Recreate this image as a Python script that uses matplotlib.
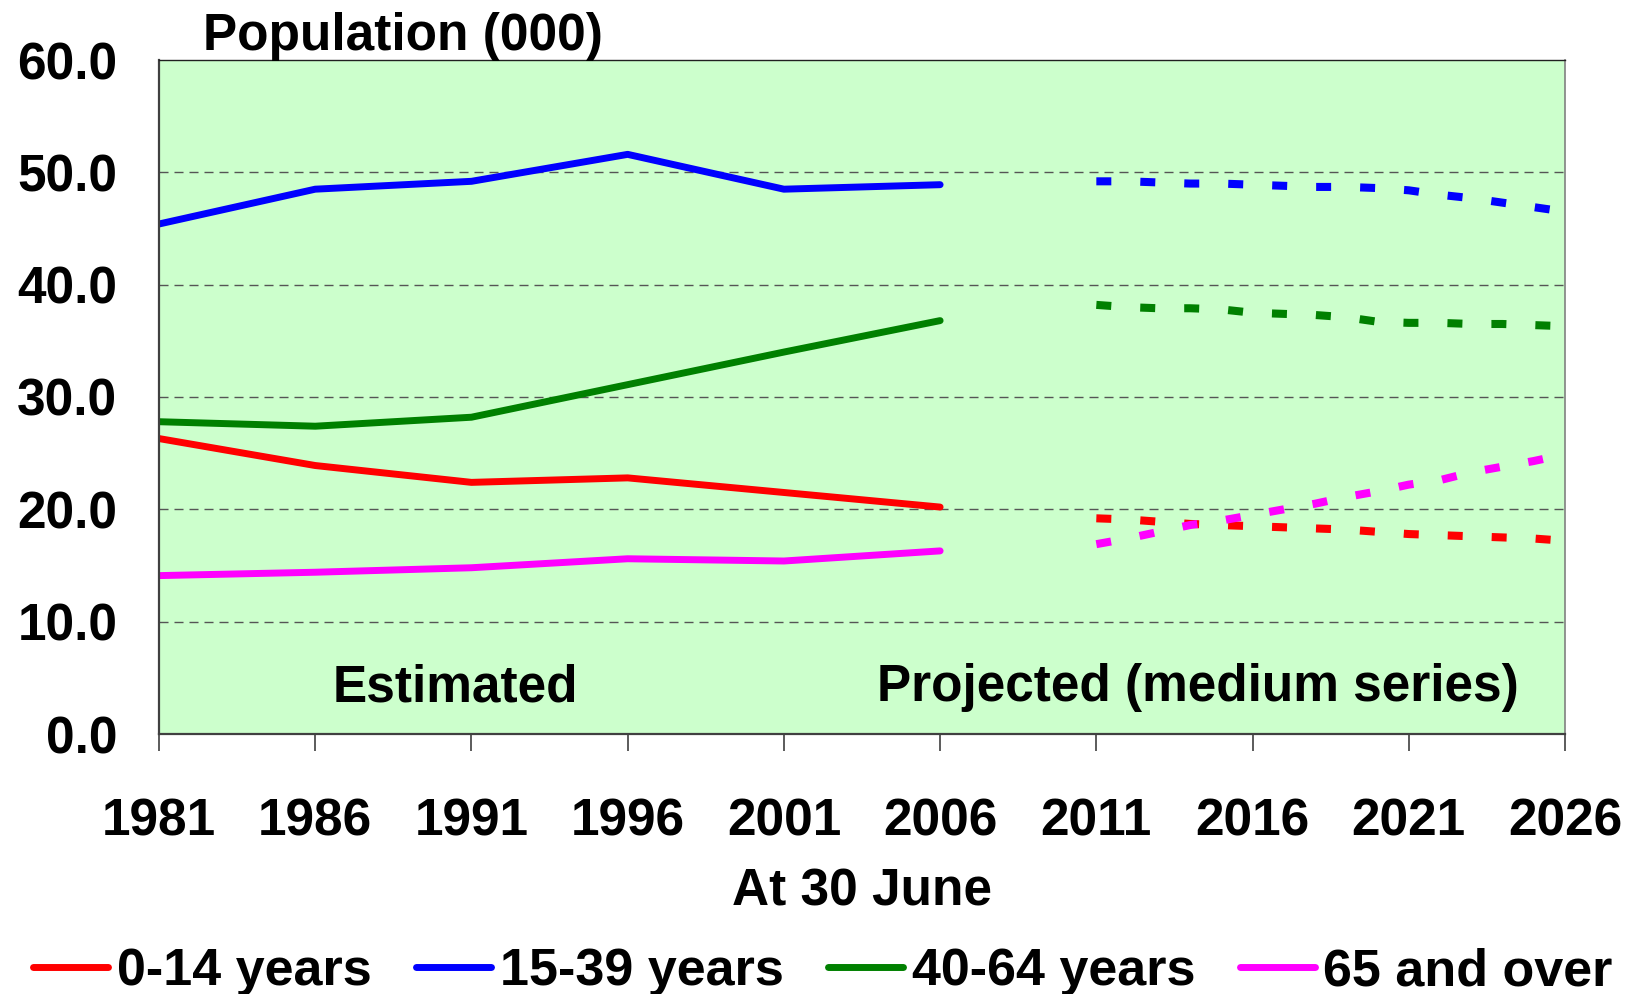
import matplotlib
matplotlib.use('Agg')
import matplotlib.pyplot as plt

plt.rcParams['font.family'] = ['Liberation Sans', 'DejaVu Sans']
plt.rcParams['font.weight'] = 'bold'

# estimated, at 30 June
est_years = [1981, 1986, 1991, 1996, 2001, 2006]
est_0_14 = [26.3, 23.9, 22.4, 22.8, 21.5, 20.2]
est_15_39 = [45.4, 48.5, 49.2, 51.6, 48.5, 48.9]
est_40_64 = [27.8, 27.4, 28.2, 31.1, 34.0, 36.8]
est_65_over = [14.1, 14.4, 14.8, 15.6, 15.4, 16.3]

# projected (medium series)
proj_years = list(range(2011, 2027))
proj_0_14 = [19.2, 19.1, 18.9, 18.7, 18.6, 18.5, 18.4, 18.3, 18.2, 18.0,
             17.8, 17.7, 17.6, 17.5, 17.4, 17.2]
proj_15_39 = [49.2, 49.2, 49.1, 49.0, 49.0, 48.9, 48.8, 48.7, 48.7, 48.6,
              48.4, 48.0, 47.7, 47.3, 46.9, 46.5]
proj_40_64 = [38.2, 38.0, 37.9, 37.9, 37.8, 37.5, 37.4, 37.3, 37.1, 36.7,
              36.6, 36.6, 36.5, 36.5, 36.4, 36.3]
proj_65_over = [16.9, 17.4, 18.0, 18.6, 19.0, 19.5, 20.0, 20.5, 21.1, 21.6,
                22.2, 22.6, 23.3, 23.8, 24.3, 24.9]

labels = ['0-14 years', '15-39 years', '40-64 years', '65 and over']
colors = ['#FF0000', '#0000FF', '#008000', '#FF00FF']
est = [est_0_14, est_15_39, est_40_64, est_65_over]
proj = [proj_0_14, proj_15_39, proj_40_64, proj_65_over]

x_ticks = [1981, 1986, 1991, 1996, 2001, 2006, 2011, 2016, 2021, 2026]
y_ticks = [0, 10, 20, 30, 40, 50, 60]

fig = plt.figure(figsize=(16.3, 9.94), dpi=100)
ax = fig.add_axes([159 / 1630, 1 - 734 / 994, (1565 - 159) / 1630, (734 - 60) / 994])
ax.set_facecolor('#CCFFCC')

for e, p, c, lab in zip(est, proj, colors, labels):
    ax.plot(est_years, e, color=c, lw=5, solid_capstyle='round', label=lab)
    ax.plot(proj_years, p, color=c, lw=5.8, linestyle=(0, (1.86, 3.6)))

for v in y_ticks[1:-1]:
    ax.axhline(v, color='#555555', lw=1.0, linestyle=(0, (6.5, 4.3)), zorder=0.5)

ax.set_xlim(1981, 2026)
ax.set_ylim(0, 60)
ax.set_xticks(x_ticks)
ax.set_yticks(y_ticks)
ax.set_yticklabels([f'{v:.1f}' for v in y_ticks])
ax.tick_params(axis='x', direction='out', length=12, width=1.2, color='#404040',
               pad=34, labelsize=37)
ax.tick_params(axis='y', length=0, pad=30, labelsize=37)

ax.spines['left'].set_color('#404040')
ax.spines['left'].set_linewidth(1.6)
ax.spines['bottom'].set_color('#404040')
ax.spines['bottom'].set_linewidth(1.6)
ax.spines['top'].set_color('#202020')
ax.spines['top'].set_linewidth(1.0)
ax.spines['right'].set_color('#808080')
ax.spines['right'].set_linewidth(1.2)

ax.text(1990.5, 2.92, 'Estimated', ha='center', va='baseline', fontsize=37)
ax.text(2014.25, 2.92, 'Projected (medium series)', ha='center', va='baseline', fontsize=37)

fig.text(203 / 1630, 1 - 50 / 994, 'Population (000)', ha='left', va='baseline', fontsize=37)
fig.text(862 / 1630, 1 - 905 / 994, 'At 30 June', ha='center', va='baseline', fontsize=37)

fig.legend(loc='center', bbox_to_anchor=(823 / 1630, 1 - 972 / 994), ncol=4,
           frameon=False, fontsize=37.5, handlelength=1.44, handletextpad=0.16,
           columnspacing=0.86, borderpad=0, borderaxespad=0)

fig.savefig('out.png', dpi=100)
